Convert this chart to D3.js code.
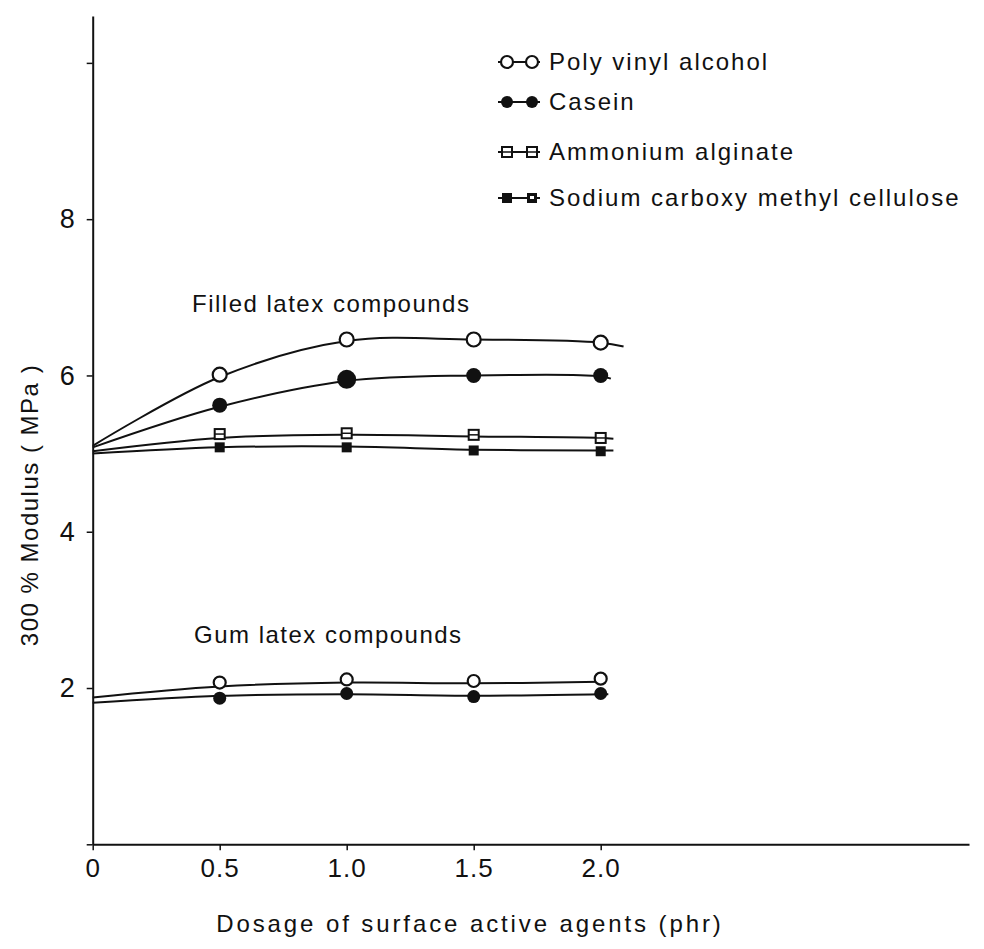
<!DOCTYPE html>
<html>
<head>
<meta charset="utf-8">
<script src="https://cdn.jsdelivr.net/npm/d3@7.9.0/dist/d3.min.js"></script>
<style>
  body { margin: 0; background: #fff; }
  text { font-family: "Liberation Sans", Arial, sans-serif; fill: #111; }
</style>
</head>
<body>
<div id="viz"></div>
<script>
// Dosage levels (phr) where the markers sit
const dosage = [0.5, 1.0, 1.5, 2.0];

// Filled latex compounds, 300% modulus (MPa)
const filledPVA = [6.01, 6.46, 6.46, 6.42];
const filledCasein = [5.62, 5.95, 6.0, 6.0];
const filledAlginate = [5.25, 5.26, 5.24, 5.2];
const filledCMC = [5.08, 5.08, 5.04, 5.03];

// Gum latex compounds
const gumPVA = [2.07, 2.11, 2.09, 2.12];
const gumCasein = [1.87, 1.93, 1.89, 1.93];

// Hand drawn curves: [dosage, modulus]
const curveFilledPVA = [[0, 5.1], [0.5, 5.98], [1.0, 6.44], [1.5, 6.46], [2.0, 6.42], [2.09, 6.37]];
const curveFilledCasein = [[0, 5.08], [0.5, 5.6], [1.0, 5.93], [1.5, 6.0], [2.0, 5.99], [2.04, 5.96]];
const curveFilledAlginate = [[0, 5.03], [0.5, 5.2], [1.0, 5.24], [1.5, 5.22], [2.0, 5.2], [2.05, 5.19]];
const curveFilledCMC = [[0, 5.0], [0.5, 5.08], [1.0, 5.09], [1.5, 5.05], [2.0, 5.04], [2.05, 5.04]];
const curveGumPVA = [[0, 1.88], [0.5, 2.02], [1.0, 2.07], [1.5, 2.06], [2.0, 2.08], [2.02, 2.08]];
const curveGumCasein = [[0, 1.81], [0.5, 1.9], [1.0, 1.92], [1.5, 1.9], [2.0, 1.92], [2.03, 1.92]];

const xTicks = [0, 0.5, 1.0, 1.5, 2.0];
const xTickLabels = ["0", "0.5", "1.0", "1.5", "2.0"];
const yTicks = [0, 2, 4, 6, 8, 10];
const yTickLabels = ["", "2", "4", "6", "8", ""];

const legendLabels = ["Poly vinyl  alcohol", "Casein", "Ammonium  alginate", "Sodium  carboxy methyl  cellulose"];
const legendSymbols = ["openCircle", "filledCircle", "openSquare", "filledSquare"];

const width = 984, height = 949;

const svg = d3.select("#viz").append("svg")
    .attr("width", width)
    .attr("height", height);

// scales: origin at (92.7, 844.3)
const x = d3.scaleLinear().domain([0, 3.45]).range([92.7, 969]);
const y = d3.scaleLinear().domain([0, 10.6]).range([844.3, 16]);

// axes
const xAxis = svg.append("g")
    .attr("transform", "translate(0," + y(0) + ")")
    .call(d3.axisBottom(x).tickValues(xTicks).tickSize(6).tickSizeOuter(0)
      .tickFormat((d, i) => xTickLabels[i]));
xAxis.select(".domain").attr("stroke", "#111").attr("stroke-width", 2);
xAxis.selectAll(".tick line").attr("stroke", "#111").attr("stroke-width", 1.5);
xAxis.selectAll(".tick text")
    .attr("y", 14)
    .attr("font-size", 26)
    .attr("letter-spacing", 1)
    .style("font-family", "'Liberation Sans', Arial, sans-serif");

const yAxis = svg.append("g")
    .attr("transform", "translate(" + x(0) + ",0)")
    .call(d3.axisLeft(y).tickValues(yTicks).tickSize(6).tickSizeOuter(0)
      .tickFormat((d, i) => yTickLabels[i]));
yAxis.select(".domain").attr("stroke", "#111").attr("stroke-width", 2);
yAxis.selectAll(".tick line").attr("stroke", "#111").attr("stroke-width", 1.5);
yAxis.selectAll(".tick text")
    .attr("x", -18)
    .attr("font-size", 27)
    .style("font-family", "'Liberation Sans', Arial, sans-serif");

// axis titles
svg.append("text")
    .attr("x", 470)
    .attr("y", 932)
    .attr("text-anchor", "middle")
    .attr("font-size", 24)
    .attr("letter-spacing", 2.9)
    .text("Dosage of surface active agents (phr)");

svg.append("text")
    .attr("transform", "translate(38,505) rotate(-90)")
    .attr("text-anchor", "middle")
    .attr("font-size", 24)
    .attr("letter-spacing", 1.5)
    .text("300 % Modulus ( MPa )");

// group labels
svg.append("text")
    .attr("x", 192)
    .attr("y", 312)
    .attr("font-size", 24)
    .attr("letter-spacing", 1.5)
    .text("Filled  latex  compounds");

svg.append("text")
    .attr("x", 194)
    .attr("y", 643)
    .attr("font-size", 24)
    .attr("letter-spacing", 1.5)
    .text("Gum  latex  compounds");

// curves
const line = d3.line()
    .x(d => x(d[0]))
    .y(d => y(d[1]))
    .curve(d3.curveCatmullRom.alpha(0.5));

[curveFilledPVA, curveFilledCasein, curveFilledAlginate, curveFilledCMC, curveGumPVA, curveGumCasein]
  .forEach(c => {
    svg.append("path")
      .datum(c)
      .attr("fill", "none")
      .attr("stroke", "#111")
      .attr("stroke-width", 2)
      .attr("d", line);
  });

// marker drawing
function drawMarker(g, type, cx, cy, size) {
  if (type === "openCircle") {
    g.append("circle").attr("cx", cx).attr("cy", cy).attr("r", size)
      .attr("fill", "#fff").attr("stroke", "#111").attr("stroke-width", 2.2);
  } else if (type === "filledCircle") {
    g.append("circle").attr("cx", cx).attr("cy", cy).attr("r", size)
      .attr("fill", "#111");
  } else if (type === "openSquare") {
    g.append("rect").attr("x", cx - size).attr("y", cy - size)
      .attr("width", size * 2).attr("height", size * 2)
      .attr("fill", "#fff").attr("stroke", "#111").attr("stroke-width", 2);
    g.append("line").attr("x1", cx - size).attr("x2", cx + size)
      .attr("y1", cy).attr("y2", cy).attr("stroke", "#111").attr("stroke-width", 1.5);
  } else if (type === "filledSquare") {
    g.append("rect").attr("x", cx - size).attr("y", cy - size)
      .attr("width", size * 2).attr("height", size * 2)
      .attr("fill", "#111");
  }
}

const markerSeries = [
  {values: filledPVA, type: "openCircle", size: 7},
  {values: filledCasein, type: "filledCircle", size: 7.5},
  {values: filledAlginate, type: "openSquare", size: 5},
  {values: filledCMC, type: "filledSquare", size: 5},
  {values: gumPVA, type: "openCircle", size: 6},
  {values: gumCasein, type: "filledCircle", size: 6.5}
];

const markers = svg.append("g");
markerSeries.forEach(s => {
  s.values.forEach((v, i) => {
    // the casein point at 1.0 phr is drawn bigger in the original
    let size = (s.values === filledCasein && i === 1) ? 9.5 : s.size;
    drawMarker(markers, s.type, x(dosage[i]), y(v), size);
  });
});

// legend
const legendY = [62, 102, 152, 198];
const legend = svg.append("g");
legendLabels.forEach((label, i) => {
  const ly = legendY[i];
  legend.append("line")
    .attr("x1", 498).attr("x2", 540)
    .attr("y1", ly).attr("y2", ly)
    .attr("stroke", "#111").attr("stroke-width", 2);
  if (legendSymbols[i] === "filledSquare") {
    drawMarker(legend, "filledSquare", 507, ly, 5);
    legend.append("rect").attr("x", 527).attr("y", ly - 5).attr("width", 10).attr("height", 10)
      .attr("fill", "#111");
    legend.append("rect").attr("x", 530).attr("y", ly - 2).attr("width", 4).attr("height", 3)
      .attr("fill", "#fff");
  } else {
    drawMarker(legend, legendSymbols[i], 507, ly, legendSymbols[i] === "openSquare" ? 5 : 6);
    drawMarker(legend, legendSymbols[i], 532, ly, legendSymbols[i] === "openSquare" ? 5 : 6);
  }
  legend.append("text")
    .attr("x", 549)
    .attr("y", ly)
    .attr("dy", "0.35em")
    .attr("font-size", 24)
    .attr("letter-spacing", 2)
    .text(label);
});
</script>
</body>
</html>
